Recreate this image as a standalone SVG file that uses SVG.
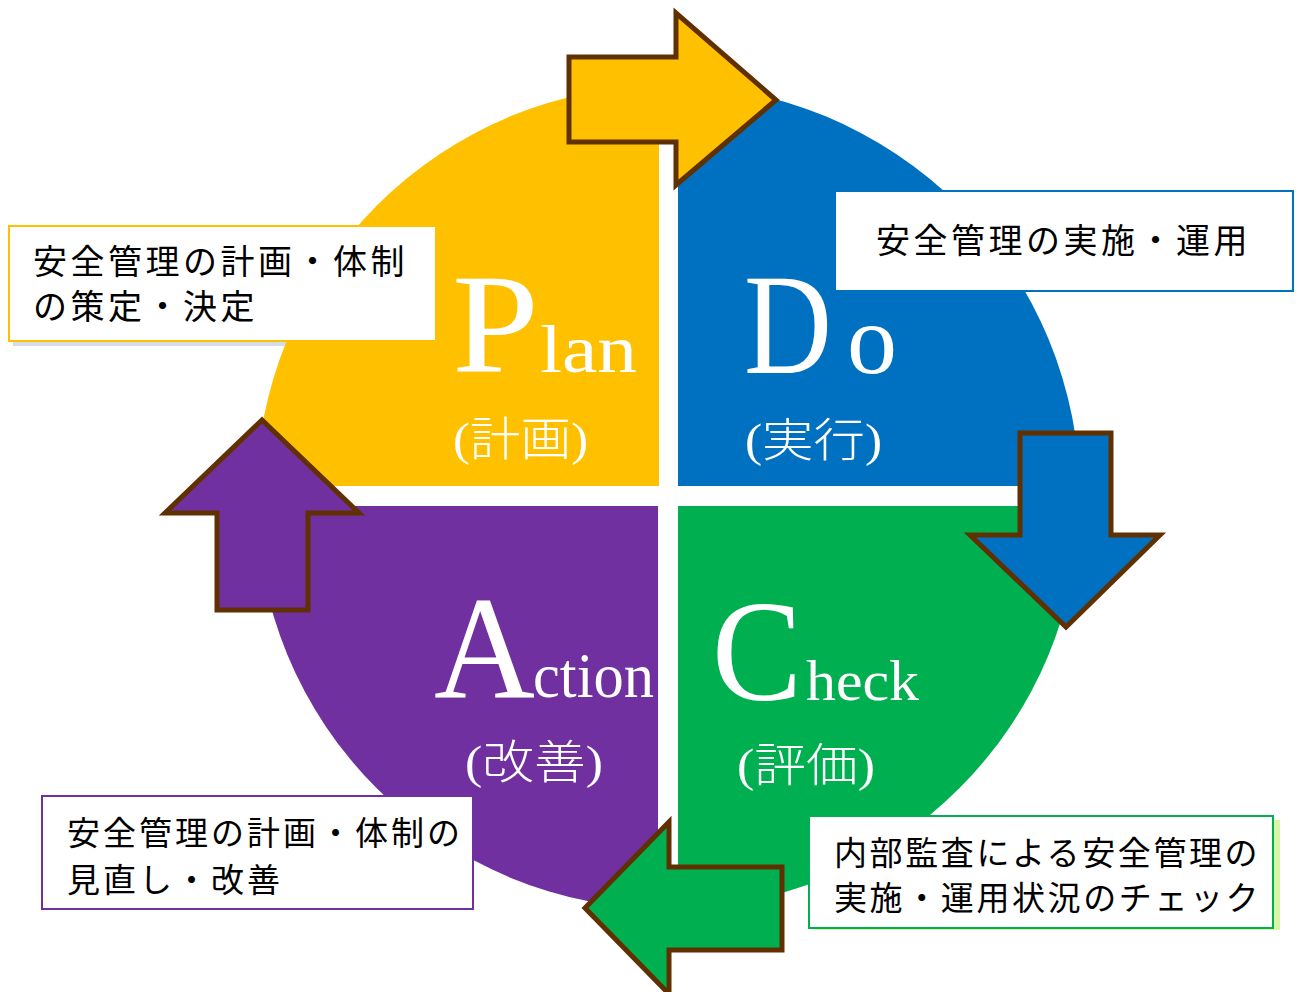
<svg xmlns="http://www.w3.org/2000/svg" width="1300" height="992" viewBox="0 0 1300 992">
<defs>
<clipPath id="circ"><circle cx="668" cy="497" r="412"/></clipPath>
<style>
.big{font-family:"Liberation Serif","Times New Roman",serif;fill:#fff}
.sub{font-family:"Liberation Serif","Noto Sans CJK JP",serif;fill:#fff;font-size:46px;font-weight:300}
.box{fill:#fff;stroke-width:2}
.bt{font-family:"Noto Sans CJK JP","Noto Sans CJK SC",sans-serif;fill:#000}
.arr{stroke:#603000;stroke-width:5;stroke-linejoin:miter}
</style>
</defs>
<rect width="1300" height="992" fill="#fff"/>
<!-- shadows -->
<rect x="13" y="230" width="428" height="116" fill="#D6DCE5"/>
<rect x="813" y="820" width="467" height="110" fill="#D9F5A6"/>

<g id="plan">
<rect x="0" y="0" width="659" height="486" fill="#FFC000" clip-path="url(#circ)"/>
<text class="big" x="452" y="372" font-size="142" textLength="87" lengthAdjust="spacingAndGlyphs">P</text>
<text class="big" x="540" y="372" font-size="68" textLength="97" lengthAdjust="spacingAndGlyphs">lan</text>
<text class="sub" x="453" y="455" textLength="135" lengthAdjust="spacingAndGlyphs">(計画)</text>
</g>
<g id="do">
<rect x="678" y="0" width="622" height="486" fill="#0070C0" clip-path="url(#circ)"/>
<text class="big" x="744" y="373" font-size="144" textLength="88" lengthAdjust="spacingAndGlyphs">D</text>
<text class="big" x="847" y="373" font-size="100">o</text>
<text class="sub" x="745" y="456" textLength="137" lengthAdjust="spacingAndGlyphs">(実行)</text>
</g>
<g id="action">
<rect x="0" y="506" width="658" height="486" fill="#7030A0" clip-path="url(#circ)"/>
<text class="big" x="434" y="697" font-size="146" textLength="101" lengthAdjust="spacingAndGlyphs">A</text>
<text class="big" x="533" y="697" font-size="63" textLength="121" lengthAdjust="spacingAndGlyphs">ction</text>
<text class="sub" x="465" y="778" textLength="138" lengthAdjust="spacingAndGlyphs">(改善)</text>
</g>
<g id="check">
<rect x="678" y="506" width="622" height="486" fill="#00B050" clip-path="url(#circ)"/>
<text class="big" x="712" y="700" font-size="145" textLength="90" lengthAdjust="spacingAndGlyphs">C</text>
<text class="big" x="806" y="700" font-size="56" textLength="113" lengthAdjust="spacingAndGlyphs">heck</text>
<text class="sub" x="737" y="781" textLength="138" lengthAdjust="spacingAndGlyphs">(評価)</text>
</g>

<g id="connectors">
<polygon class="arr" fill="#FFC000" points="569,57 676,57 676,13 776,100 676,185 676,142 569,142"/>
<polygon class="arr" fill="#0070C0" points="1020,433 1111,433 1111,535 1160,535 1066,627 970,535 1020,535"/>
<polygon class="arr" fill="#00B050" points="585,908 669,822 669,867 782,867 782,950 669,950 669,994"/>
<polygon class="arr" fill="#7030A0" points="262,420 359,513 308,513 308,610 217,610 217,513 165,513"/>
</g>

<g id="plan-note">
<rect class="box" x="9" y="226" width="427" height="115" stroke="#FFC000"/>
<text class="bt" font-size="34" letter-spacing="3.5"><tspan x="33" y="274">安全管理の計画・体制</tspan><tspan x="33" y="319">の策定・決定</tspan></text>
</g>
<g id="do-note">
<rect class="box" x="835" y="191" width="458" height="100" stroke="#0070C0"/>
<text class="bt" font-size="34" letter-spacing="3.5" x="876" y="253">安全管理の実施・運用</text>
</g>
<g id="action-note">
<rect class="box" x="42" y="796" width="431" height="113" stroke="#7030A0"/>
<text class="bt" font-size="33" letter-spacing="3"><tspan x="67" y="845">安全管理の計画・体制の</tspan><tspan x="67" y="892">見直し・改善</tspan></text>
</g>
<g id="check-note">
<rect class="box" x="809" y="816" width="464" height="112" stroke="#00B050"/>
<text class="bt" font-size="33" letter-spacing="2.6"><tspan x="834" y="865">内部監査による安全管理の</tspan><tspan x="834" y="910">実施・運用状況のチェック</tspan></text>
</g>
</svg>
